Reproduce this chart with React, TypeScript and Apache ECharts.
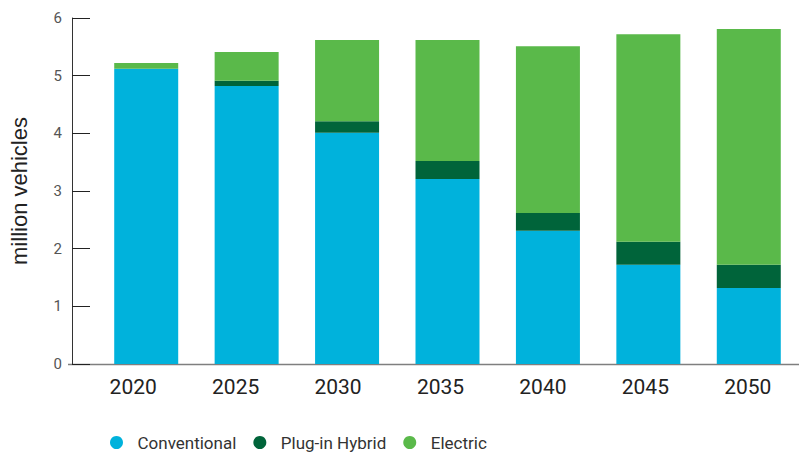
import React, { useEffect, useRef } from "react";
import * as echarts from "echarts";

const years = ["2020", "2025", "2030", "2035", "2040", "2045", "2050"];
const conventional = [5.12, 4.82, 4.01, 3.21, 2.31, 1.72, 1.32];
const plugInHybrid = [0.0, 0.09, 0.2, 0.31, 0.31, 0.4, 0.4];
const electric = [0.1, 0.5, 1.41, 2.1, 2.89, 3.6, 4.09];

const NARROW = "Roboto, 'Noto Sans', sans-serif";
const SANS = "'Liberation Sans', Arial, sans-serif";

export default function App() {
  const ref = useRef<HTMLDivElement>(null);
  useEffect(() => {
    document.body.style.margin = "0";
    if (!ref.current) return;
    const chart = echarts.init(ref.current, undefined, { renderer: "svg" });
    const mk = (name: string, data: number[], color: string) => ({
      name,
      type: "bar",
      stack: "total",
      data,
      barWidth: 64,
      itemStyle: { color },
      emphasis: { disabled: true },
    });
    chart.setOption({
      animation: false,
      textStyle: { fontFamily: NARROW },
      grid: [
        { left: 92, top: 18, width: 712, height: 346, containLabel: false },
        { left: 82, top: 18, width: 723, height: 346, containLabel: false },
      ],
      legend: {
        left: 105,
        top: 429,
        icon: "circle",
        itemWidth: 32,
        itemHeight: 13,
        itemGap: 17,
        textStyle: { fontSize: 17, color: "#333", fontFamily: NARROW },
        data: ["Conventional", "Plug-in Hybrid", "Electric"],
      },
      graphic: [
        {
          type: "line",
          shape: { x1: 68, y1: 364.5, x2: 799, y2: 364.5 },
          style: { stroke: "#7f7f7f", lineWidth: 1.5 },
          silent: true,
        },
      ],
      xAxis: [
        {
          type: "category",
          gridIndex: 0,
          data: years,
          axisLine: { show: false },
          axisTick: { show: false },
          axisLabel: { show: false },
        },
        {
          type: "category",
          gridIndex: 1,
          data: years,
          axisLine: { show: false },
          axisTick: { show: false },
          axisLabel: { fontSize: 21, color: "#222", margin: 12, fontFamily: NARROW },
        },
      ],
      yAxis: [
        {
          type: "value",
          gridIndex: 0,
          min: 0,
          max: 6,
          interval: 1,
          offset: 24,
          name: "million vehicles",
          nameLocation: "middle",
          nameGap: 42,
          nameTextStyle: { fontSize: 22, color: "#222", fontFamily: SANS },
          axisLine: { show: true, lineStyle: { color: "#333", width: 1 } },
          axisTick: { show: true, inside: true, length: 18, lineStyle: { color: "#222" } },
          axisLabel: { fontSize: 15, color: "#555", margin: 10, fontFamily: NARROW },
          splitLine: { show: false },
        },
        {
          type: "value",
          gridIndex: 1,
          min: 0,
          max: 6,
          show: false,
        },
      ],
      series: [
        mk("Conventional", conventional, "#00B2DC"),
        mk("Plug-in Hybrid", plugInHybrid, "#00643A"),
        mk("Electric", electric, "#5AB94A"),
      ],
    });
    return () => chart.dispose();
  }, []);
  return <div ref={ref} style={{ width: 799, height: 457 }} />;
}
